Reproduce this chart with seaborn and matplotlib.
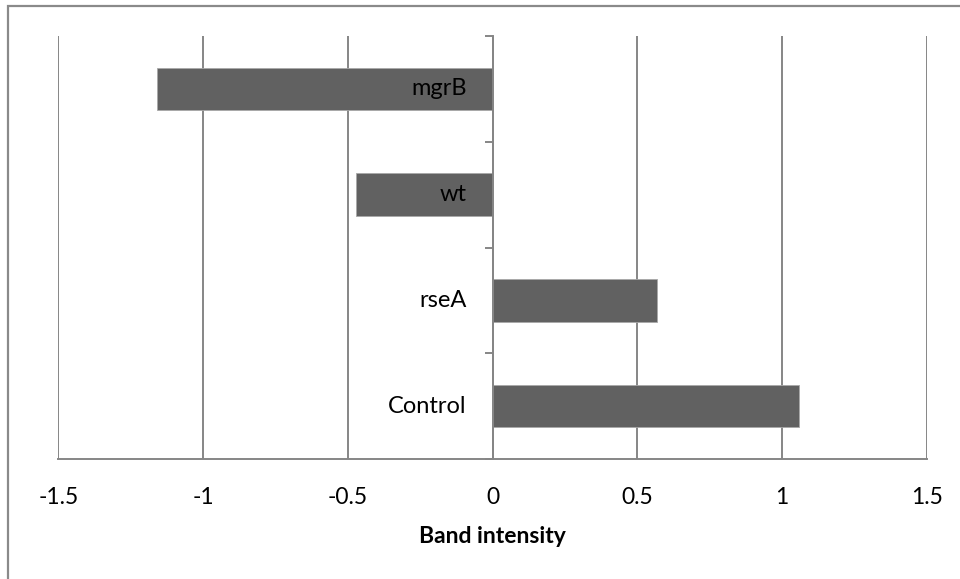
import matplotlib
matplotlib.use("Agg")
import matplotlib.pyplot as plt
from matplotlib.patches import Rectangle
import seaborn as sns
import pandas as pd

# Samples, top to bottom, and their measured band intensities
samples = ["mgrB", "wt", "rseA", "Control"]
intensity = [-1.16, -0.47, 0.57, 1.06]
x_ticks = [-1.5, -1, -0.5, 0, 0.5, 1, 1.5]
x_tick_labels = ["-1.5", "-1", "-0.5", "0", "0.5", "1", "1.5"]
x_title = "Band intensity"

df = pd.DataFrame({"sample": samples, "intensity": intensity})

sns.set_theme(style="white")
plt.rcParams["font.family"] = ["Lato", "DejaVu Sans"]

GRID = "#868686"
BAR = "#616161"

fig = plt.figure(figsize=(9.6, 5.79), dpi=100)
ax = fig.add_axes([58.3 / 960, 120 / 579, (926.7 - 58.3) / 960, 423 / 579])

sns.barplot(data=df, x="intensity", y="sample", order=samples, orient="h",
            color=BAR, saturation=1, width=0.4, edgecolor="#a8a8a8",
            linewidth=0.6, ax=ax, zorder=2)

ax.set_xlim(-1.5, 1.5)
ax.set_ylim(len(samples) - 0.5, -0.5)
ax.set_axisbelow(True)

# vertical gridlines at every major tick
ax.set_xticks(x_ticks)
ax.set_xticklabels(x_tick_labels, fontsize=16.5, color="black")
ax.xaxis.grid(True, color=GRID, linewidth=1.4)
ax.yaxis.grid(False)

# spines: vertical axis sits at zero, horizontal axis at the bottom
for s in ["top", "right"]:
    ax.spines[s].set_visible(False)
ax.spines["left"].set_position(("data", 0))
ax.spines["left"].set_color(GRID)
ax.spines["left"].set_linewidth(1.4)
ax.spines["left"].set_zorder(3)
ax.spines["bottom"].set_color(GRID)
ax.spines["bottom"].set_linewidth(1.4)

ax.tick_params(axis="x", which="major", direction="out", length=6,
               width=1.4, color=GRID, pad=14)
# category boundaries get tick marks, labels are drawn separately
ax.set_yticks([i - 0.5 for i in range(len(samples) + 1)])
ax.set_yticklabels([])
ax.tick_params(axis="y", which="major", direction="out", length=6,
               width=1.4, color=GRID, left=True)

for i, name in enumerate(samples):
    ax.annotate(name, xy=(0, i), xytext=(-18.7, 0), textcoords="offset points",
                ha="right", va="center", fontsize=17, color="black", zorder=5)

ax.set_ylabel("")
ax.set_xlabel(x_title, fontsize=16.5, fontweight="bold", color="black", labelpad=13)

# chart frame
fig.patches.append(Rectangle((8 / 960, -0.05), 1.1, 1.05 - 6 / 579,
                             transform=fig.transFigure, fill=False,
                             edgecolor="#8a8a8a", linewidth=1.6))

fig.savefig("out.png", dpi=100, facecolor="white")
